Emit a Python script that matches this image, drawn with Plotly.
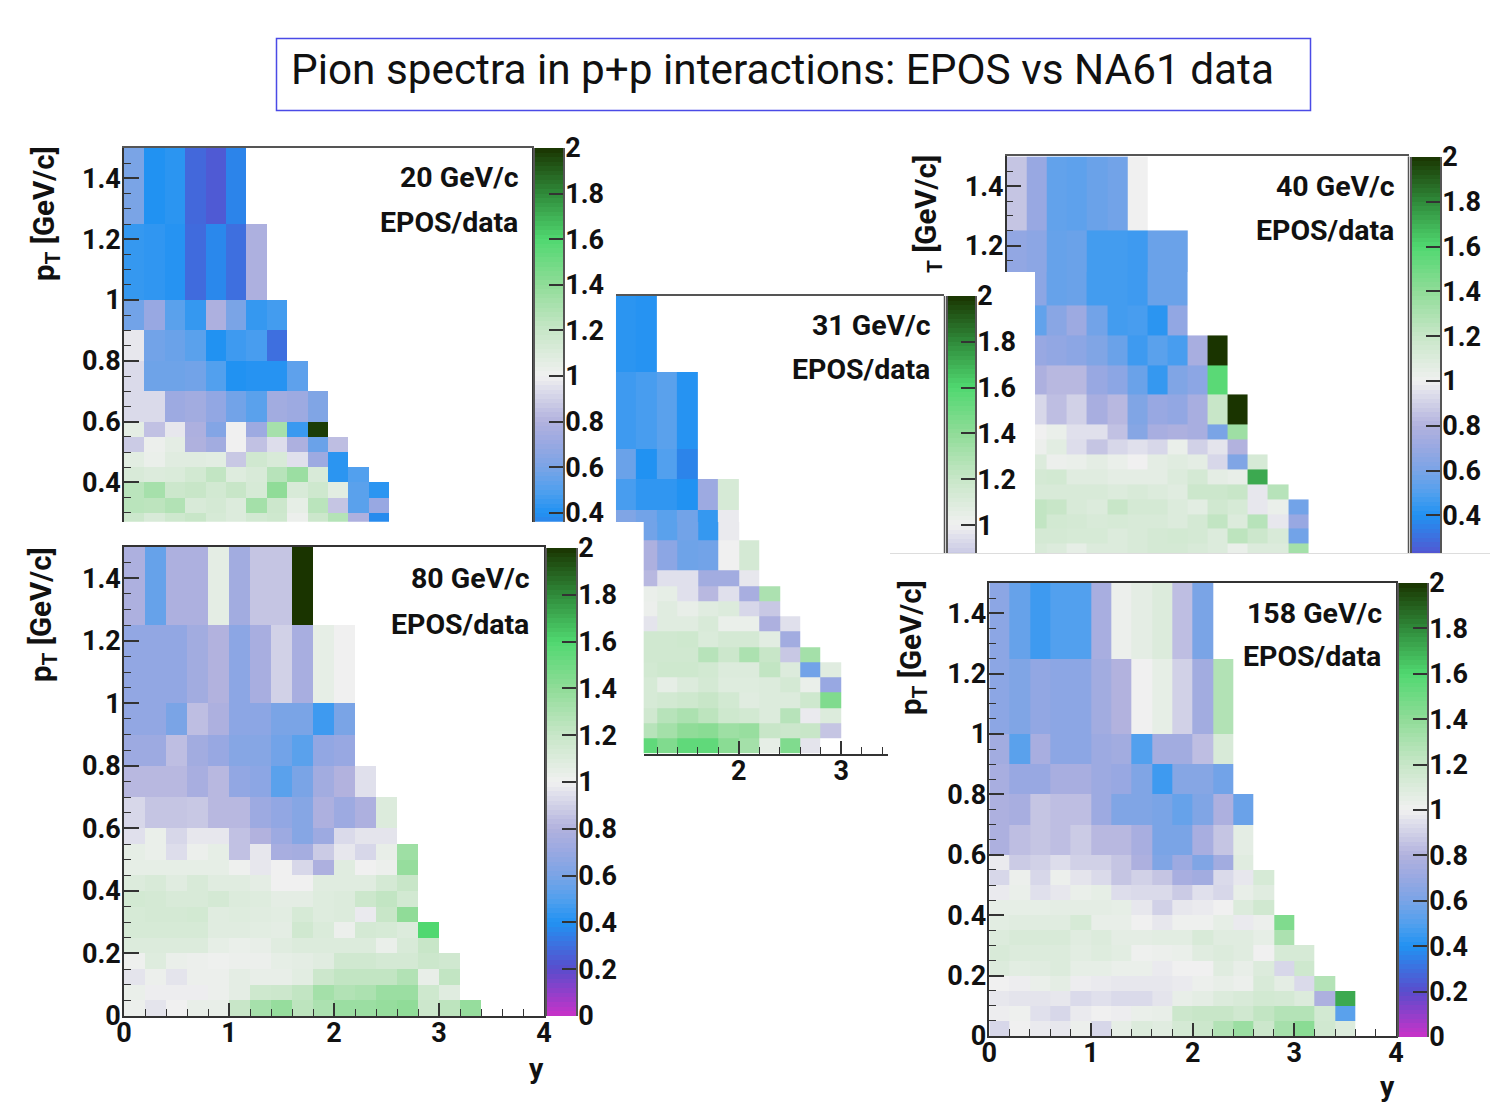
#!/usr/bin/env python3
# -*- coding: utf-8 -*-

"""
Pion spectra in p+p interactions: EPOS/data ratio maps for five beam momenta
"""

import numpy as np
import plotly.graph_objects as go

WIDTH = 1500
HEIGHT = 1119
FONT = "Roboto"
AXIS_COLOR = "#555555"

# Bin edges, pT goes from the top row to the bottom row
PT_EDGES = [1.5, 1.25, 1.0, 0.9, 0.8, 0.7, 0.6, 0.55, 0.5, 0.45, 0.4, 0.35, 0.3, 0.25, 0.2, 0.15, 0.1, 0.05, 0.0]
Y_EDGES = [0.0, 0.2, 0.4, 0.6, 0.8, 1.0, 1.2, 1.4, 1.6, 1.8, 2.0, 2.2, 2.4, 2.6, 2.8, 3.0, 3.2, 3.4, 3.6, 3.8, 4.0]

PALETTE = [
    [0.0, "#c832c8"], [0.1, "#5a4ccc"], [0.2, "#2192f2"], [0.25, "#52a0ee"], [0.3, "#7aa4e6"], [0.35, "#98a8e2"],
    [0.4, "#b2b2de"], [0.5, "#f0f0f0"], [0.6, "#c8e6c8"], [0.7, "#90dc98"], [0.8, "#50d870"], [0.9, "#2f8a3a"],
    [1.0, "#1a3400"],
]

# EPOS/data per row, rows start at the first y bin unless marked otherwise
RATIO_20 = [
    [0.6, 0.4, 0.42, 0.28, 0.24, 0.36],
    [0.44, 0.43, 0.41, 0.29, 0.37, 0.3, 0.78],
    [0.58, 0.7, 0.52, 0.44, 0.78, 0.6, 0.44, 0.47],
    [0.97, 0.58, 0.56, 0.52, 0.4, 0.46, 0.48, 0.3],
    [0.93, 0.57, 0.57, 0.58, 0.5, 0.4, 0.41, 0.41, 0.53],
    [0.93, 0.93, 0.72, 0.74, 0.68, 0.58, 0.52, 0.74, 0.72, 0.62],
    [1.06, 0.85, 0.97, 0.78, 0.63, 1.0, 0.72, 1.32, 0.45, 1.98],
    [0.88, 1.02, 1.06, 0.79, 0.74, 1.0, 0.85, 0.94, 0.78, 0.56, 0.84],
    [1.07, 1.03, 1.08, 1.08, 1.07, 0.87, 1.16, 1.12, 0.95, 0.72, 0.42],
    [1.12, 1.1, 1.11, 1.15, 1.22, 1.09, 1.12, 1.26, 1.36, 1.12, 0.42, 0.5],
    [1.25, 1.32, 1.18, 1.2, 1.15, 1.2, 1.13, 1.4, 1.12, 1.17, 1.07, 0.52, 0.42],
    [1.25, 1.24, 1.28, 1.12, 1.14, 1.1, 1.33, 1.18, 1.05, 1.25, 0.86, 0.52, 0.7],
    [1.18, 1.12, 1.17, 1.2, 1.13, 1.1, 1.15, 1.17, 1.02, 1.18, 1.27, 0.78, 0.38],
]

# These rows start at y = 0.8
RATIO_31 = [
    [0.42, 0.41],
    [0.46, 0.48, 0.52, 0.41],
    [0.56, 0.4, 0.5, 0.36],
    [0.48, 0.43, 0.43, 0.4, 0.72, 1.13],
    [0.62, 0.58, 0.52, 0.58, 0.44, 0.98],
    [None, 0.78, 0.66, 0.57, 0.58, 1.0, 1.14],
    [None, 0.82, 0.95, 0.95, 0.74, 0.74, 0.97],
    [None, 1.03, 1.05, 0.95, 0.82, 0.95, 0.76, 1.3],
    [None, 1.02, 1.08, 1.04, 1.08, 1.1, 0.92, 0.87],
    [None, 0.96, 1.08, 1.08, 1.12, 1.03, 1.03, 0.78, 0.95],
    [None, 1.16, 1.16, 1.17, 1.11, 1.14, 1.14, 1.07, 0.74],
    [None, 1.16, 1.16, 1.16, 1.26, 1.18, 1.3, 1.2, 0.87, 1.33],
    [None, 1.15, 1.17, 1.17, 1.15, 1.1, 1.1, 1.22, 1.1, 0.58, 1.08],
    [None, 1.13, 1.05, 1.1, 1.14, 1.09, 1.09, 1.1, 1.14, 1.03, 0.7],
    [None, 1.13, 1.15, 1.17, 1.2, 1.15, 1.08, 1.1, 1.1, 1.17, 1.45],
    [None, 1.16, 1.26, 1.3, 1.24, 1.17, 1.15, 1.1, 1.26, 0.98, 1.1],
    [None, 1.26, 1.33, 1.4, 1.42, 1.35, 1.37, 1.2, 1.18, 1.2, 0.86],
    [None, 1.55, 1.45, 1.55, 1.55, 1.42, 1.33, 1.05, 1.45, 0.96],
]

RATIO_40 = [
    [0.86, 0.7, 0.54, 0.53, 0.56, 0.58, 1.0],
    [0.68, 0.66, 0.55, 0.56, 0.47, 0.47, 0.46, 0.56, 0.56],
    [None, 0.54, 0.65, 0.72, 0.58, 0.47, 0.48, 0.42, 0.68],
    [None, 0.7, 0.68, 0.66, 0.62, 0.56, 0.46, 0.52, 0.48, 0.76, 2.0],
    [None, 0.78, 0.82, 0.82, 0.7, 0.66, 0.56, 0.44, 0.62, 0.66, 1.57],
    [None, 0.92, 0.84, 0.9, 0.76, 0.82, 0.62, 0.7, 0.68, 0.76, 1.2, 2.0],
    [None, 1.0, 1.03, 0.95, 0.95, 0.85, 0.64, 0.76, 0.78, 0.76, 0.6, 1.35],
    [None, 1.02, 1.07, 0.94, 0.86, 0.92, 0.95, 0.92, 1.03, 0.9, 0.96, 0.8],
    [None, 1.1, 1.02, 1.03, 1.06, 1.03, 1.0, 1.06, 1.08, 1.06, 0.92, 0.62, 1.13],
    [None, 1.14, 1.15, 1.08, 1.08, 1.06, 1.06, 1.06, 1.1, 1.14, 1.06, 1.04, 1.72],
    [None, 1.12, 1.12, 1.12, 1.12, 1.1, 1.12, 1.1, 1.08, 1.18, 1.18, 1.2, 0.97, 1.26],
    [None, 1.22, 1.2, 1.12, 1.1, 1.2, 1.14, 1.14, 1.1, 1.07, 1.16, 1.13, 0.97, 1.03, 0.58],
    [None, 1.22, 1.15, 1.14, 1.12, 1.13, 1.12, 1.12, 1.1, 1.14, 1.22, 1.1, 1.26, 0.97, 0.7],
    [None, 1.14, 1.14, 1.13, 1.13, 1.1, 1.12, 1.14, 1.15, 1.14, 1.1, 1.24, 1.18, 1.12, 0.58],
    [None, 1.12, 1.1, 1.05, 1.1, 1.1, 1.12, 1.14, 1.14, 1.12, 1.1, 1.03, 1.1, 1.1, 1.33],
]

RATIO_80 = [
    [0.78, 0.55, 0.78, 0.78, 1.06, 0.74, 0.86, 0.86, 2.0],
    [0.68, 0.68, 0.68, 0.74, 0.8, 0.66, 0.76, 0.9, 0.76, 1.05, 1.0],
    [0.68, 0.68, 0.6, 0.84, 0.78, 0.66, 0.66, 0.6, 0.6, 0.46, 0.6],
    [0.72, 0.72, 0.84, 0.74, 0.7, 0.64, 0.64, 0.58, 0.52, 0.68, 0.7],
    [0.82, 0.82, 0.82, 0.76, 0.82, 0.68, 0.66, 0.52, 0.6, 0.74, 0.8, 0.95],
    [0.92, 0.86, 0.86, 0.87, 0.82, 0.82, 0.72, 0.68, 0.64, 0.78, 0.72, 0.78, 1.1],
    [0.95, 1.03, 0.92, 0.97, 0.97, 0.85, 0.8, 0.72, 0.64, 0.72, 0.93, 0.96, 0.96],
    [1.05, 1.03, 0.94, 1.02, 1.05, 0.85, 0.97, 0.76, 0.75, 0.88, 0.97, 0.92, 1.04, 1.35],
    [1.05, 1.05, 1.05, 1.05, 1.05, 1.01, 0.97, 1.0, 0.92, 0.78, 1.08, 1.0, 1.02, 1.38],
    [1.1, 1.12, 1.08, 1.12, 1.08, 1.08, 1.06, 1.0, 1.0, 1.08, 1.08, 1.08, 1.14, 1.2],
    [1.15, 1.14, 1.12, 1.12, 1.14, 1.1, 1.09, 1.06, 1.06, 1.09, 1.1, 1.18, 1.22, 1.15],
    [1.13, 1.14, 1.14, 1.15, 1.08, 1.09, 1.08, 1.07, 1.13, 1.09, 1.1, 0.98, 1.2, 1.4],
    [1.13, 1.13, 1.13, 1.13, 1.08, 1.08, 1.07, 1.06, 1.16, 1.11, 1.02, 1.14, 1.13, 1.1, 1.6],
    [1.1, 1.1, 1.1, 1.1, 1.05, 1.03, 1.04, 1.08, 1.1, 1.1, 1.1, 1.1, 1.03, 1.12, 1.2],
    [1.01, 1.09, 1.03, 1.02, 1.01, 1.02, 1.02, 1.05, 1.06, 1.08, 1.16, 1.16, 1.14, 1.14, 1.18, 1.16],
    [0.96, 1.02, 0.96, 1.02, 1.02, 1.06, 1.04, 1.04, 1.07, 1.18, 1.22, 1.22, 1.22, 1.28, 1.04, 1.22],
    [1.03, 0.99, 0.99, 0.99, 1.02, 1.06, 1.17, 1.18, 1.22, 1.33, 1.28, 1.3, 1.36, 1.36, 1.17, 1.08],
    [1.02, 0.96, 1.0, 1.04, 1.04, 1.2, 1.32, 1.38, 1.24, 1.3, 1.36, 1.36, 1.38, 1.4, 1.18, 1.24, 1.38],
]

RATIO_158 = [
    [0.66, 0.55, 0.46, 0.5, 0.5, 0.76, 1.02, 1.06, 1.1, 0.84, 0.6],
    [0.66, 0.62, 0.68, 0.66, 0.66, 0.74, 0.8, 1.0, 1.05, 0.9, 0.74, 1.28],
    [0.74, 0.52, 0.76, 0.66, 0.66, 0.72, 0.74, 0.5, 0.74, 0.74, 0.84, 1.12],
    [0.76, 0.7, 0.7, 0.76, 0.76, 0.72, 0.7, 0.62, 0.46, 0.64, 0.64, 0.58],
    [0.78, 0.76, 0.86, 0.84, 0.84, 0.72, 0.62, 0.62, 0.6, 0.55, 0.62, 0.78, 0.56],
    [0.78, 0.84, 0.86, 0.84, 0.88, 0.82, 0.82, 0.76, 0.6, 0.6, 0.76, 0.86, 1.06],
    [0.98, 0.88, 0.9, 0.94, 0.9, 0.9, 0.86, 0.78, 0.62, 0.72, 0.62, 0.74, 1.08],
    [0.92, 1.02, 0.92, 1.02, 0.96, 0.93, 0.86, 0.9, 0.86, 0.76, 0.74, 0.93, 0.97, 1.13],
    [0.98, 1.03, 0.95, 0.97, 1.03, 1.05, 0.94, 0.93, 0.93, 0.88, 0.95, 0.92, 1.04, 1.08],
    [1.05, 1.05, 1.05, 1.06, 1.06, 1.06, 1.05, 0.97, 0.9, 0.97, 0.98, 1.0, 1.1, 1.16],
    [1.07, 1.08, 1.08, 1.08, 1.13, 1.04, 1.04, 1.0, 0.97, 1.01, 1.01, 1.05, 0.98, 1.02, 1.45],
    [1.1, 1.12, 1.12, 1.12, 1.08, 1.1, 1.06, 1.06, 1.07, 1.07, 1.12, 1.08, 1.08, 1.05, 1.3],
    [1.12, 1.1, 1.1, 1.1, 1.07, 1.09, 1.07, 1.01, 1.02, 1.03, 1.08, 1.1, 1.08, 1.0, 1.13, 1.13],
    [1.1, 1.07, 1.08, 1.1, 1.05, 1.05, 1.03, 1.03, 0.98, 1.0, 1.0, 1.08, 1.04, 1.1, 0.92, 1.17],
    [1.0, 0.99, 1.03, 1.06, 0.99, 0.98, 0.97, 0.97, 0.97, 0.98, 1.02, 1.04, 1.02, 1.12, 1.06, 0.93, 1.27],
    [0.97, 0.96, 0.96, 0.97, 0.93, 0.95, 0.93, 0.93, 0.96, 1.04, 1.06, 1.1, 1.12, 1.15, 1.14, 1.1, 0.78, 1.72],
    [0.99, 1.01, 0.95, 0.92, 0.98, 1.0, 0.99, 1.03, 1.04, 1.18, 1.2, 1.2, 1.16, 1.22, 1.27, 1.27, 1.15, 0.52],
    [0.92, 1.0, 0.98, 0.97, 1.02, 0.92, 1.05, 1.1, 1.08, 1.14, 1.18, 1.28, 1.36, 1.18, 1.32, 1.42, 1.16, 1.1],
]


def px_x(x):
    return x / WIDTH


def px_y(y):
    return 1 - y / HEIGHT


def build_z(rows, offset=0):
    """Pad the rows to the full bin grid and flip them so pT goes upwards"""
    n_rows = len(PT_EDGES) - 1
    n_cols = len(Y_EDGES) - 1
    z = []
    for i in range(n_rows):
        row = rows[i] if i < len(rows) else []
        row = [None] * offset + list(row)
        z.append(row + [None] * (n_cols - len(row)))
    return z[::-1]


fig = go.Figure()
axis_count = [1]


def add_heat(x, y, z, x_px, y_px, xaxis_opts, yaxis_opts):
    axis_count[0] += 1
    n = axis_count[0]
    fig.add_trace(go.Heatmap(x=x, y=y, z=z, coloraxis="coloraxis", xaxis=f"x{n}", yaxis=f"y{n}",
                             hoverongaps=False))
    xaxis_opts = dict(xaxis_opts, domain=[px_x(x_px[0]), px_x(x_px[1])], anchor=f"y{n}", showgrid=False,
                      zeroline=False)
    yaxis_opts = dict(yaxis_opts, domain=[px_y(y_px[1]), px_y(y_px[0])], anchor=f"x{n}", showgrid=False,
                      zeroline=False)
    fig.update_layout({f"xaxis{n}": xaxis_opts, f"yaxis{n}": yaxis_opts})


tick_font = dict(family=FONT, size=27, color="#111111", weight=700)

# Axis styles, ROOT style: ticks inside the frame, top and right lines without ticks
top_line = dict(side="top", showline=True, linecolor=AXIS_COLOR, linewidth=1.5, ticks="", showticklabels=False)
x_frame = dict(showline=True, linecolor="#333333", linewidth=1.5, ticks="inside", ticklen=13, tickwidth=1.5,
               tickcolor="#333333", tick0=0, dtick=1, tickfont=tick_font, ticklabelstandoff=-8,
               minor=dict(dtick=0.2, ticks="inside", ticklen=7, tickcolor="#333333", tickwidth=1.2))
y_frame = dict(showline=True, linecolor="#333333", linewidth=1.5, ticks="inside", ticklen=15, tickwidth=1.5,
               tickcolor="#333333", tick0=0, dtick=0.2, tickfont=tick_font, mirror=True, ticklabelstandoff=-4,
               minor=dict(dtick=0.05, ticks="inside", ticklen=7, tickcolor="#333333", tickwidth=1.2))
hidden = dict(visible=False)

pt_up = PT_EDGES[::-1]

# 20 GeV/c, cut off below by the 80 GeV/c panel
add_heat(Y_EDGES, pt_up, build_z(RATIO_20), (124, 532), (148, 521.7),
         dict(top_line, range=[0, 4]), dict(y_frame, range=[0.271, 1.5]))

# 31 GeV/c, the other panels hide part of it so it is drawn as two clipped views
z_31 = build_z(RATIO_31, offset=4)
add_heat(Y_EDGES, pt_up, z_31, (615.8, 943.5), (296, 522),
         dict(top_line, range=[0.8, 4]), dict(hidden, range=[0.759, 1.5]))
add_heat(Y_EDGES, pt_up, z_31, (643.7, 888), (522, 753.5),
         dict(x_frame, range=[1.07, 3.458]), dict(hidden, range=[0, 0.759]))

# 40 GeV/c, same thing
z_40 = build_z(RATIO_40)
add_heat(Y_EDGES, pt_up, z_40, (1006.7, 1408.7), (156.4, 272),
         dict(top_line, range=[0, 4]), dict(y_frame, mirror=False, range=[1.112, 1.5]))
add_heat(Y_EDGES, pt_up, z_40, (1035, 1408.7), (272, 553.3),
         dict(hidden, range=[0.283, 4]), dict(hidden, range=[0.168, 1.112]))

# 80 GeV/c
add_heat(Y_EDGES, pt_up, build_z(RATIO_80), (124, 544), (547, 1016),
         dict(x_frame, range=[0, 4], mirror=True), dict(y_frame, range=[0, 1.5]))

# 158 GeV/c
add_heat(Y_EDGES, pt_up, build_z(RATIO_158), (989.3, 1396), (583, 1036),
         dict(x_frame, range=[0, 4], mirror=True), dict(y_frame, range=[0, 1.5]))

# Palette strips are small heatmaps of their own so they can be clipped like the panels
levels = np.linspace(0, 2, 101)
strip_z = [[v] for v in (levels[:-1] + levels[1:]) / 2]
strip_y = dict(side="right", showline=True, mirror=True, linecolor=AXIS_COLOR, linewidth=1.5, ticks="inside",
               ticklen=14, tickwidth=1.5, tickcolor="#333333", tick0=0, dtick=0.2, tickfont=tick_font,
               ticklabelstandoff=-5)
PALETTE_BOXES = [
    ((535, 563), (148, 521.7), [0.361, 2]),
    ((948, 975), (296, 553), [0.878, 2]),
    ((1412, 1440), (157, 553), [0.232, 2]),
    ((547, 576), (548, 1016), [0, 2]),
    ((1399, 1427), (583, 1037), [0, 2]),
]
for x_px, y_px, y_range in PALETTE_BOXES:
    add_heat([0, 1], levels, strip_z, x_px, y_px, dict(hidden, range=[0, 1]), dict(strip_y, range=y_range))

annotations = []


def add_text(x, y, text, size=28.5, xanchor="center", angle=0, weight=700):
    annotations.append(dict(x=px_x(x), y=px_y(y), xref="paper", yref="paper", text=text, showarrow=False,
                            xanchor=xanchor, yanchor="middle", textangle=angle,
                            font=dict(family=FONT, size=size, color="#111111", weight=weight)))


add_text(289, 69, "Pion spectra in p+p interactions: EPOS vs NA61 data", size=42.3, xanchor="left", weight=400)

PANEL_LABELS = [
    ("20 GeV/c", 521, 177, 520, 222),
    ("31 GeV/c", 933, 325, 932, 370),
    ("40 GeV/c", 1397, 186, 1396, 230),
    ("80 GeV/c", 532, 578, 531, 624),
    ("158 GeV/c", 1384, 613, 1383, 657),
]
for label, x1, y1, x2, y2 in PANEL_LABELS:
    add_text(x1, y1, label, xanchor="right")
    add_text(x2, y2, "EPOS/data", xanchor="right")

add_text(46, 214, "p<sub>T</sub> [GeV/c]", size=29.5, angle=-90)
add_text(43, 615, "p<sub>T</sub> [GeV/c]", size=29.5, angle=-90)
add_text(913, 648, "p<sub>T</sub> [GeV/c]", size=29.5, angle=-90)
add_text(928, 214, "<sub>T</sub> [GeV/c]", size=29.5, angle=-90)
add_text(536, 1068, "y")
add_text(1387, 1086, "y")

# Title box, leftover frame lines of the hidden panels and the pasted picture edge
shapes = [
    dict(type="rect", xref="paper", yref="paper", x0=px_x(276.5), x1=px_x(1310.5), y0=px_y(38.5), y1=px_y(110.5),
         line=dict(color="#4a4ae6", width=1.5)),
    dict(type="line", xref="paper", yref="paper", x0=px_x(944.5), x1=px_x(944.5), y0=px_y(296), y1=px_y(553),
         line=dict(color=AXIS_COLOR, width=1.5)),
    dict(type="line", xref="paper", yref="paper", x0=px_x(1408.5), x1=px_x(1408.5), y0=px_y(156.4), y1=px_y(553),
         line=dict(color=AXIS_COLOR, width=1.5)),
    dict(type="line", xref="paper", yref="paper", x0=px_x(890), x1=px_x(1490), y0=px_y(553.5), y1=px_y(553.5),
         line=dict(color="#dddddd", width=1)),
]

fig.update_layout(width=WIDTH, height=HEIGHT, margin=dict(l=0, r=0, t=0, b=0, pad=0, autoexpand=False),
                  paper_bgcolor="white", plot_bgcolor="rgba(0,0,0,0)", showlegend=False, annotations=annotations,
                  shapes=shapes, coloraxis=dict(colorscale=PALETTE, cmin=0, cmax=2, showscale=False))

fig.write_html("out.html", config=dict(displayModeBar=False), post_script="document.body.style.margin = '0';")
